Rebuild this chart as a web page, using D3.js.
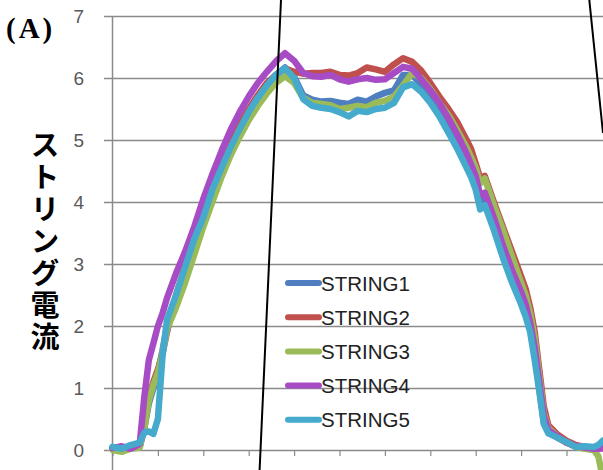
<!DOCTYPE html>
<html>
<head>
<meta charset="utf-8">
<script src="https://cdn.jsdelivr.net/npm/d3@7/dist/d3.min.js"></script>
<style>
  html, body { margin: 0; padding: 0; background: #fff; }
  svg { display: block; }
</style>
</head>
<body>
<svg id="chart" width="603" height="470"></svg>
<script>
// Sample positions along the horizontal axis (one tick every 10 samples)
const times = [0,2,4,6,7,8,9,10,11,12,14,16,18,20,22,24,26,28,30,32,34,36,38,40,42,44,46,48,50,52,54,56,58,60,62,64,66,68,70,72,74,76,78,79,80,81,82,84,86,88,90,91,92,93,94,95,96,98,100,102,104,106,107,108];

const string1 = [0.04,0.02,0.07,0.06,0.35,0.75,1.0,1.25,1.6,2.0,2.45,2.9,3.3,3.72,4.18,4.55,4.9,5.2,5.47,5.68,5.88,6.05,6.17,6.02,5.72,5.65,5.62,5.63,5.6,5.58,5.65,5.62,5.7,5.76,5.8,6.05,6.05,5.9,5.7,5.5,5.25,4.98,4.68,4.5,4.32,4.0,4.05,3.65,3.2,2.8,2.45,2.25,2.0,1.55,1.0,0.45,0.3,0.2,0.12,0.06,0.05,0.04,0.05,0.08];

const string2 = [0.03,0.05,0.04,0.05,0.4,0.85,1.1,1.3,1.55,1.9,2.5,2.95,3.35,3.8,4.25,4.62,4.95,5.25,5.5,5.72,5.92,6.05,6.15,6.1,6.07,6.08,6.08,6.1,6.05,6.04,6.08,6.17,6.14,6.1,6.22,6.32,6.26,6.12,5.92,5.7,5.5,5.28,5.0,4.85,4.62,4.38,4.42,4.0,3.6,3.2,2.8,2.6,2.3,1.9,1.3,0.7,0.4,0.25,0.15,0.08,0.05,0.04,0.03,0.03];

const string3 = [0.0,-0.03,0.02,0.04,0.35,0.8,1.05,1.25,1.55,1.95,2.3,2.7,3.15,3.6,4.0,4.4,4.75,5.05,5.32,5.55,5.75,5.92,6.03,5.92,5.68,5.6,5.58,5.56,5.5,5.52,5.55,5.53,5.6,5.63,5.7,5.88,6.08,6.0,5.82,5.6,5.4,5.15,4.88,4.72,4.55,4.3,4.38,3.95,3.55,3.12,2.7,2.5,2.2,1.8,1.2,0.6,0.35,0.22,0.12,0.05,0.02,0.0,-0.1,-0.45];

const string4 = [0.03,0.06,0.02,0.1,0.85,1.45,1.72,2.0,2.2,2.45,2.85,3.2,3.6,4.05,4.45,4.82,5.16,5.45,5.7,5.92,6.1,6.27,6.4,6.28,6.08,6.03,6.02,6.05,5.98,5.94,5.98,6.0,5.97,5.98,6.08,6.18,6.15,5.98,5.8,5.6,5.35,5.08,4.78,4.6,4.42,4.1,4.15,3.75,3.3,2.9,2.55,2.35,2.05,1.65,1.1,0.55,0.32,0.22,0.12,0.06,0.04,0.02,0.02,0.03];

const string5 = [0.05,0.02,0.08,0.12,0.28,0.3,0.26,0.5,1.5,2.1,2.5,2.95,3.4,3.75,4.2,4.55,4.88,5.18,5.45,5.68,5.88,6.05,6.16,6.0,5.66,5.55,5.52,5.5,5.45,5.38,5.47,5.45,5.5,5.52,5.6,5.85,5.9,5.78,5.6,5.38,5.12,4.85,4.55,4.4,4.2,3.88,3.95,3.55,3.1,2.7,2.35,2.15,1.9,1.45,0.95,0.42,0.27,0.2,0.13,0.05,0.06,0.05,0.08,0.15];

const seriesNames = ["STRING1", "STRING2", "STRING3", "STRING4", "STRING5"];
const seriesValues = [string1, string2, string3, string4, string5];
const seriesColors = ["#4f7fc0", "#c0504d", "#9bbb59", "#a84cc6", "#45aacc"];

const yTicks = [0, 1, 2, 3, 4, 5, 6, 7];
const xTicks = [0, 10, 20, 30, 40, 50, 60, 70, 80, 90, 100, 110];

const svg = d3.select("#chart");

const x = d3.scaleLinear().domain([0, 110]).range([112.5, 611.9]);
const y = d3.scaleLinear().domain([0, 7]).range([450, 16]);

// horizontal gridlines with value labels
const yAxis = d3.axisLeft(y)
  .tickValues(yTicks)
  .tickFormat(d3.format("d"))
  .tickSize(-(603 - 104))
  .tickPadding(20);

const gy = svg.append("g")
  .attr("transform", "translate(104,0)")
  .call(yAxis);
gy.select(".domain").remove();
gy.selectAll(".tick line")
  .attr("stroke", "#8a8a8a")
  .attr("stroke-width", 1.5);
gy.selectAll(".tick text")
  .attr("fill", "#595959")
  .style("font-family", "'Liberation Sans', Arial, sans-serif")
  .style("font-size", "19px");

// vertical axis line
svg.append("line")
  .attr("x1", x(0)).attr("x2", x(0))
  .attr("y1", y(7)).attr("y2", 470)
  .attr("stroke", "#8a8a8a")
  .attr("stroke-width", 1.5);

// category tick marks beneath the zero line
const xAxis = d3.axisBottom(x)
  .tickValues(xTicks)
  .tickSize(6)
  .tickFormat("");
const gx = svg.append("g")
  .attr("transform", `translate(0,${y(0)})`)
  .call(xAxis);
gx.select(".domain").remove();
gx.selectAll(".tick line")
  .attr("stroke", "#8a8a8a")
  .attr("stroke-width", 1.2);

// series lines
const line = d3.line()
  .x((d, i) => x(times[i]))
  .y(d => y(d));

seriesValues.forEach((vals, k) => {
  svg.append("path")
    .datum(vals)
    .attr("d", line)
    .attr("fill", "none")
    .attr("stroke", seriesColors[k])
    .attr("stroke-width", 6.5)
    .attr("stroke-linejoin", "round")
    .attr("stroke-linecap", "round");
});

// legend
const legend = svg.append("g");
seriesNames.forEach((name, k) => {
  const cy = 283 + k * 34.2;
  legend.append("line")
    .attr("x1", 288).attr("x2", 319)
    .attr("y1", cy).attr("y2", cy)
    .attr("stroke", seriesColors[k])
    .attr("stroke-width", 6)
    .attr("stroke-linecap", "round");
  legend.append("text")
    .attr("x", 321)
    .attr("y", cy + 7.5)
    .attr("fill", "#222")
    .style("font-family", "'Liberation Sans', Arial, sans-serif")
    .style("font-size", "20.5px")
    .text(name);
});

// vertical axis title
svg.append("text")
  .attr("x", 45)
  .attr("y", 130)
  .style("writing-mode", "vertical-rl")
  .style("text-orientation", "upright")
  .style("font-family", "'Noto Sans CJK JP', sans-serif")
  .style("font-weight", "bold")
  .style("font-size", "29px")
  .style("letter-spacing", "3px")
  .attr("fill", "#000")
  .text("ストリング電流");

// panel label
svg.append("text")
  .attr("x", 6)
  .attr("y", 38)
  .style("font-family", "'Liberation Serif', 'Times New Roman', serif")
  .style("font-weight", "bold")
  .style("font-size", "29px")
  .style("letter-spacing", "3px")
  .attr("fill", "#000")
  .text("(A)");

// thin black guide lines across the plot
svg.append("line")
  .attr("x1", 281).attr("y1", 0)
  .attr("x2", 259.6).attr("y2", 470)
  .attr("stroke", "#000").attr("stroke-width", 2);
svg.append("line")
  .attr("x1", 589.3).attr("y1", 0)
  .attr("x2", 603).attr("y2", 133)
  .attr("stroke", "#000").attr("stroke-width", 2);
</script>
</body>
</html>
